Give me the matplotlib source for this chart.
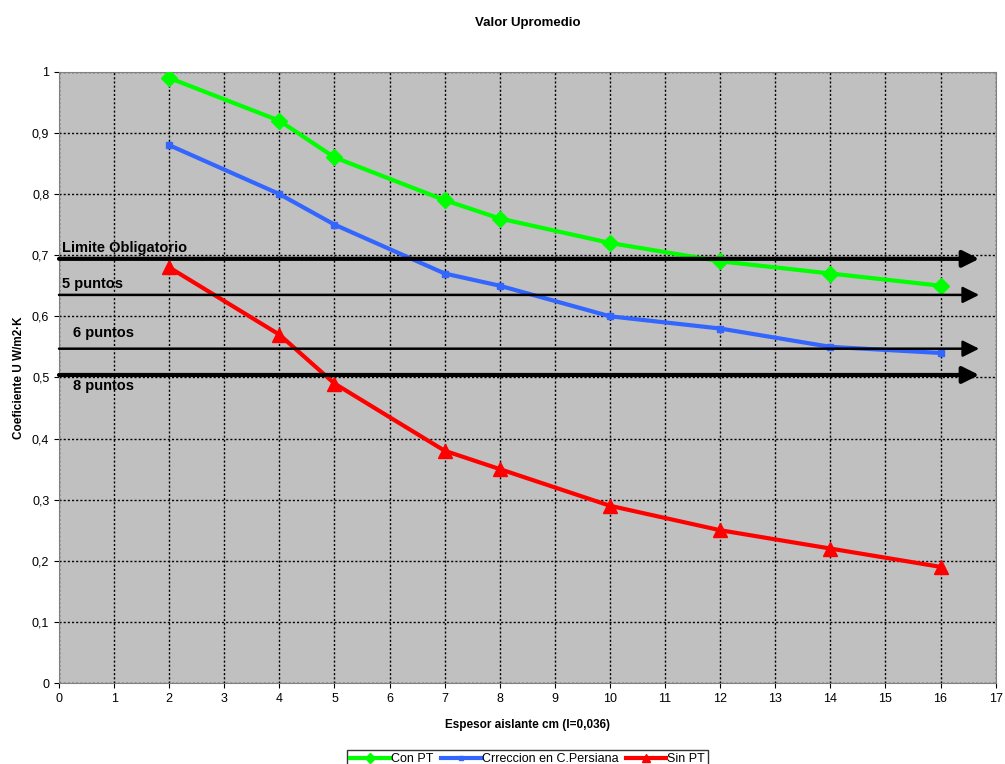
import numpy as np
import matplotlib.pyplot as plt

espesor = [2, 4, 5, 7, 8, 10, 12, 14, 16]
con_pt = [0.99, 0.92, 0.86, 0.79, 0.76, 0.72, 0.69, 0.67, 0.65]
correccion = [0.88, 0.80, 0.75, 0.67, 0.65, 0.60, 0.58, 0.55, 0.54]
sin_pt = [0.68, 0.57, 0.49, 0.38, 0.35, 0.29, 0.25, 0.22, 0.19]

limites = [0.694, 0.635, 0.547, 0.504]
limite_anchos = [3.0, 1.8, 1.8, 3.0]
etiquetas = ["Limite Obligatorio", "5 puntos", "6 puntos", "8 puntos"]
etiqueta_pos = [(0.05, 0.712), (0.05, 0.653), (0.25, 0.572), (0.25, 0.486)]

plt.rcParams['font.family'] = 'Liberation Sans'
plt.rcParams['font.size'] = 9

fig = plt.figure(figsize=(10.05, 7.64), dpi=100)
ax = fig.add_axes([0.0587, 0.106, 0.932, 0.8])
ax.set_facecolor('#c0c0c0')

ax.plot(espesor, con_pt, color='#00ff00', lw=3, marker='D', ms=8, label='Con PT', zorder=4)
ax.plot(espesor, correccion, color='#3366ff', lw=3, marker='s', ms=4, label='Crreccion en C.Persiana', zorder=4)
ax.plot(espesor, sin_pt, color='#ff0000', lw=3, marker='^', ms=10, label='Sin PT', zorder=4)

for yv, w in zip(limites, limite_anchos):
    ax.annotate('', xy=(16.7, yv), xytext=(0, yv),
                arrowprops=dict(arrowstyle='-|>,head_length=1.1,head_width=0.55', color='black', lw=w,
                                shrinkA=0, shrinkB=0),
                zorder=5)

for txt, (xt, yt) in zip(etiquetas, etiqueta_pos):
    ax.text(xt, yt, txt, fontsize=10.5, fontweight='bold', ha='left', va='center', zorder=6)

ax.set_xlim(0, 17)
ax.set_ylim(0, 1)
ax.set_xticks(np.arange(0, 18, 1))
ax.set_yticks(np.arange(0, 1.01, 0.1))
ax.set_yticklabels(['0', '0,1', '0,2', '0,3', '0,4', '0,5', '0,6', '0,7', '0,8', '0,9', '1'])
ax.grid(True, color='black', linestyle=(0, (1.5, 1.5)), lw=1)
ax.set_axisbelow(True)
for s in ax.spines.values():
    s.set_color('#808080')

ax.set_title('Valor Upromedio', fontweight='bold', fontsize=9.5, pad=33)
ax.set_xlabel('Espesor aislante cm (l=0,036)', fontweight='bold', fontsize=8.5, labelpad=10)
ax.set_ylabel('Coeficiente U W/m2·K', fontweight='bold', fontsize=8.5, labelpad=5)

leg = ax.legend(loc='upper center', bbox_to_anchor=(0.5, -0.1), ncol=3, frameon=True,
                fancybox=False, edgecolor='black', handlelength=3.2, handletextpad=0.1,
                columnspacing=0.6, borderpad=0.2, fontsize=9, markerscale=0.6)

fig.savefig('out.png', dpi=100)
